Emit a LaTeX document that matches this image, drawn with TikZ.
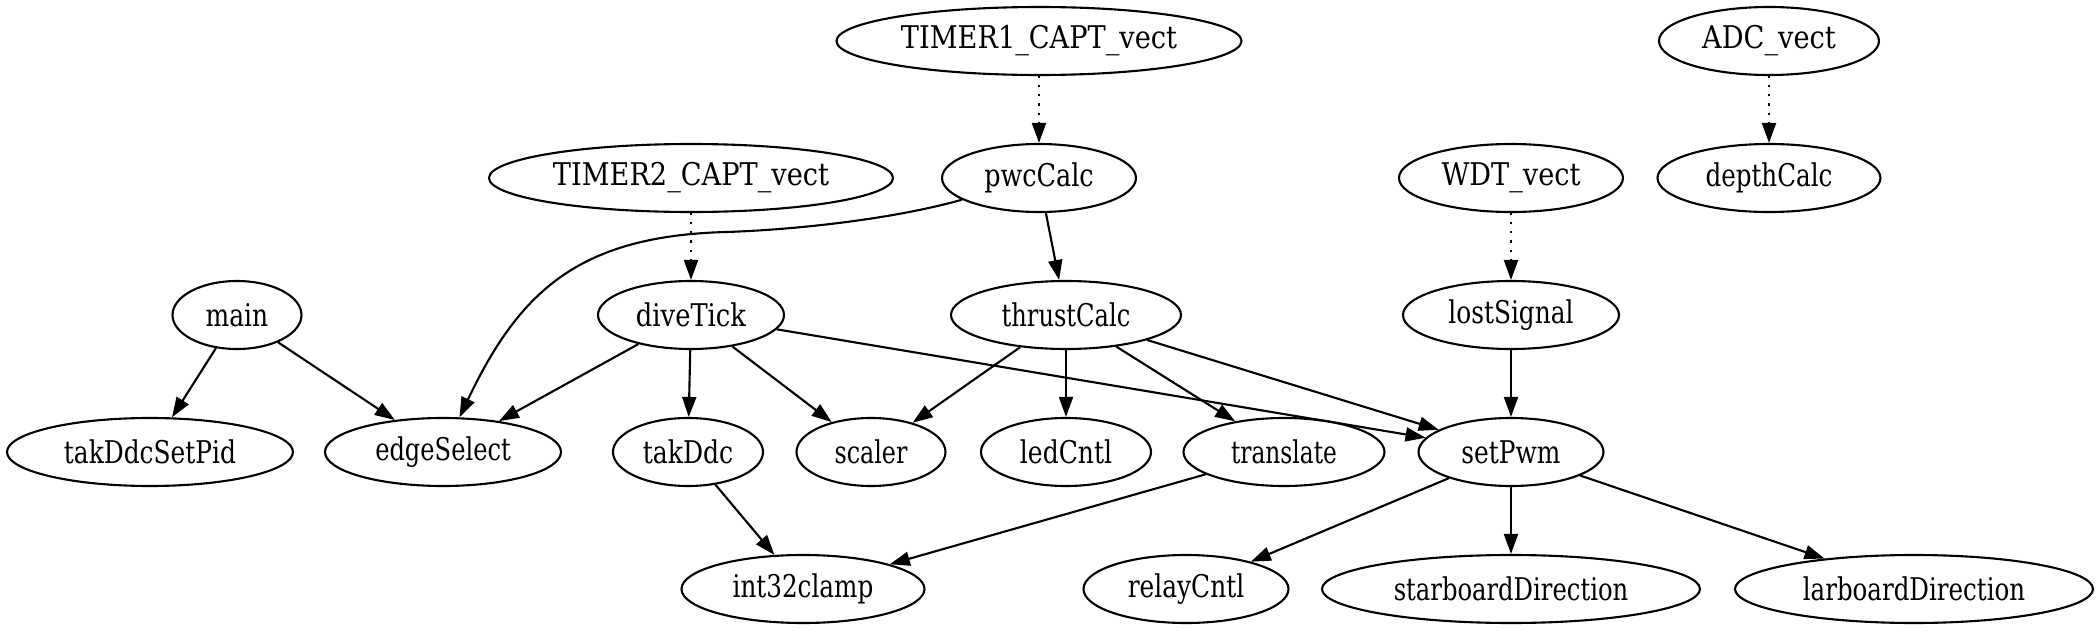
\documentclass[tikz,border=0pt]{standalone}
\usepackage{graphicx}
\usepackage{fontspec}
\setmainfont{DejaVu Serif}
\newfontfamily\gvfont{Liberation Serif}
\usetikzlibrary{shapes.geometric,arrows.meta}

% label squeezed to the width graphviz gave it
\newlength\lblwd
\newcommand\lbl[1]{\settowidth\lblwd{\gvfont #1}\resizebox{\lblwd}{\height}{#1}}

\begin{document}
\begin{tikzpicture}[
    fn/.style={draw, ellipse, semithick, minimum width=#1, minimum height=0.68cm, inner sep=0pt, font=\fontsize{8.9}{10}\selectfont},
    call/.style={-{Triangle[length=0.2cm,width=0.14cm]}, semithick},
    isr/.style={call, dotted}
]
    \useasboundingbox (0,0) rectangle (21,-6.32);

    % Interrupt vectors
    \node[fn=4.05cm] (t1) at (10.39,-0.41) {\lbl{TIMER1\_CAPT\_vect}};
    \node[fn=2.20cm] (adc) at (17.69,-0.41) {\lbl{ADC\_vect}};
    \node[fn=4.04cm] (t2) at (6.91,-1.78) {\lbl{TIMER2\_CAPT\_vect}};
    \node[fn=2.24cm] (wdt) at (15.11,-1.78) {\lbl{WDT\_vect}};

    % Handlers
    \node[fn=1.94cm] (pwc) at (10.39,-1.78) {\lbl{pwcCalc}};
    \node[fn=2.23cm] (depth) at (17.69,-1.78) {\lbl{depthCalc}};
    \node[fn=1.29cm] (main) at (2.37,-3.15) {\lbl{main}};
    \node[fn=1.86cm] (dive) at (6.91,-3.15) {\lbl{diveTick}};
    \node[fn=2.30cm] (thrust) at (10.66,-3.15) {\lbl{thrustCalc}};
    \node[fn=2.16cm] (lost) at (15.11,-3.15) {\lbl{lostSignal}};

    % Callees
    \node[fn=2.86cm] (pid) at (1.50,-4.52) {\lbl{takDdcSetPid}};
    \node[fn=2.36cm] (edge) at (4.43,-4.52) {\lbl{edgeSelect}};
    \node[fn=1.50cm] (tak) at (6.88,-4.52) {\lbl{takDdc}};
    \node[fn=1.49cm] (scaler) at (8.71,-4.52) {\lbl{scaler}};
    \node[fn=1.70cm] (led) at (10.66,-4.52) {\lbl{ledCntl}};
    \node[fn=2.01cm] (trans) at (12.84,-4.52) {\lbl{translate}};
    \node[fn=1.85cm] (pwm) at (15.11,-4.52) {\lbl{setPwm}};

    % Leaves
    \node[fn=2.43cm] (clamp) at (8.03,-5.89) {\lbl{int32clamp}};
    \node[fn=2.05cm] (relay) at (11.86,-5.89) {\lbl{relayCntl}};
    \node[fn=3.78cm] (star) at (15.11,-5.89) {\lbl{starboardDirection}};
    \node[fn=3.58cm] (lar) at (19.14,-5.89) {\lbl{larboardDirection}};

    % Vector entries
    \draw[isr] (t1) -- (pwc);
    \draw[isr] (adc) -- (depth);
    \draw[isr] (t2) -- (dive);
    \draw[isr] (wdt) -- (lost);

    % Calls
    \draw[call] (pwc) .. controls (8.9,-2.2) and (7.9,-2.3) .. (7.26,-2.32)
        .. controls (5.8,-2.36) and (5.2,-2.9) .. (edge);
    \foreach \a/\b in {main/pid, main/edge, dive/edge, dive/tak, dive/scaler, dive/pwm,
                       pwc/thrust, thrust/scaler, thrust/led, thrust/trans, thrust/pwm,
                       lost/pwm, tak/clamp, trans/clamp, pwm/relay, pwm/star, pwm/lar} {
        \draw[call] (\a) -- (\b);
    }

\end{tikzpicture}
\end{document}
